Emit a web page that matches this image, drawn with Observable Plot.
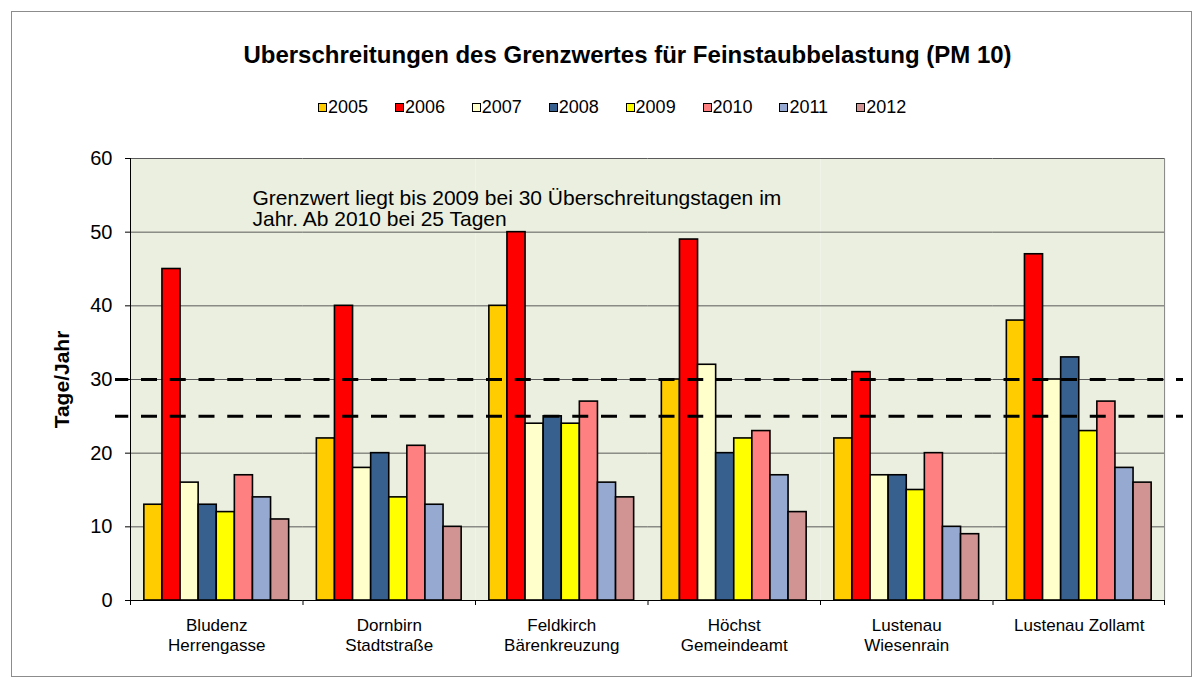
<!DOCTYPE html>
<html>
<head>
<meta charset="utf-8">
<script src="https://cdn.jsdelivr.net/npm/d3@7"></script>
<script src="https://cdn.jsdelivr.net/npm/@observablehq/plot@0.6"></script>
<style>
  body { margin: 0; background: #fff; font-family: "Liberation Sans", Arial, sans-serif; }
  #wrap { position: relative; width: 1203px; height: 685px; overflow: hidden; }
  #border { position: absolute; left: 11px; top: 11px; width: 1181px; height: 666px; border: 1px solid #8c8c8c; box-sizing: border-box; }
  #chart { position: absolute; left: 0; top: 0; }
  #title { position: absolute; left: 0; top: 41px; width: 1255px; text-align: center; font-weight: bold; font-size: 24px; line-height: 28px; color: #000; }
  #legend { position: absolute; left: 0; top: 97px; height: 20px; width: 1203px; }
  .item { position: absolute; top: 0; height: 20px; line-height: 20px; font-size: 18px; white-space: nowrap; }
  .sw { display: inline-block; width: 7px; height: 7px; border: 1.5px solid #000; vertical-align: middle; margin-right: 1px; position: relative; top: -1px; }
</style>
</head>
<body>
<div id="wrap">
  <div id="border"></div>
  <div id="chart"></div>
  <div id="title"></div>
  <div id="legend"></div>
</div>
<script>
const titleText = "Uberschreitungen des Grenzwertes für Feinstaubbelastung (PM 10)";
const categories = ["Bludenz\nHerrengasse", "Dornbirn\nStadtstraße", "Feldkirch\nBärenkreuzung", "Höchst\nGemeindeamt", "Lustenau\nWiesenrain", "Lustenau Zollamt"];
const years = ["2005", "2006", "2007", "2008", "2009", "2010", "2011", "2012"];
const v2005 = [13, 22, 40, 30, 22, 38];
const v2006 = [45, 40, 50, 49, 31, 47];
const v2007 = [16, 18, 24, 32, 17, 30];
const v2008 = [13, 20, 25, 20, 17, 33];
const v2009 = [12, 14, 24, 22, 15, 23];
const v2010 = [17, 21, 27, 23, 20, 27];
const v2011 = [14, 13, 16, 17, 10, 18];
const v2012 = [11, 10, 14, 12, 9, 16];
const colors = ["#FFCC00", "#FF0000", "#FFFFCC", "#37608F", "#FFFF00", "#FF8080", "#95A9D1", "#D29393"];
const yTicks = [0, 10, 20, 30, 40, 50, 60];
const limits = [30, 25];
const yLabel = "Tage/Jahr";
const note = ["Grenzwert liegt bis 2009 bei 30 Überschreitungstagen im", "Jahr. Ab 2010 bei 25 Tagen"];

const series = [v2005, v2006, v2007, v2008, v2009, v2010, v2011, v2012];
const table = [];
categories.forEach((c, ci) => years.forEach((y, yi) => table.push({cat: c, year: y, value: series[yi][ci]})));

const width = 1203, height = 685, mL = 130, mR = 38, mT = 158, mB = 85;
const W = (width - mL - mR) / categories.length;
const first = categories[0], last = categories[categories.length - 1];
const middleRows = categories.slice(1, -1).flatMap(c => limits.map(v => ({cat: c, v})));
const dash = "16,12.75";

document.getElementById("title").textContent = titleText;
const legend = document.getElementById("legend");
years.forEach((y, i) => {
  const it = document.createElement("div");
  it.className = "item";
  it.style.left = (318 + i * 76.9) + "px";
  const sw = document.createElement("span");
  sw.className = "sw";
  sw.style.background = colors[i];
  it.appendChild(sw);
  it.appendChild(document.createTextNode(y));
  legend.appendChild(it);
});

const chart = Plot.plot({
  width, height,
  marginLeft: mL, marginRight: mR, marginTop: mT, marginBottom: mB,
  style: {fontFamily: "'Liberation Sans', Arial, sans-serif", fontSize: "20px", color: "#000", background: "transparent"},
  fx: {domain: categories, padding: 0, round: false, axis: null},
  x: {domain: years, paddingInner: 0, paddingOuter: 0.765, round: false, axis: null},
  y: {domain: [0, 60], ticks: yTicks, tickSize: 5, tickPadding: 13, label: null},
  color: {domain: years, range: colors},
  marks: [
    Plot.frame({fill: "#EBEFDF", stroke: null}),
    Plot.ruleY(yTicks.filter(v => v > 0), {stroke: "#5a5a5a", strokeWidth: 1}),
    Plot.barY(table, {fx: "cat", x: "year", y: "value", fill: "year", stroke: "#000", strokeWidth: 1.6}),
    Plot.ruleY([0], {stroke: "#000", strokeWidth: 1}),
    Plot.rect([first], {fx: d => d, insetRight: W - 1, fill: "#000"}),
    Plot.rect([last], {fx: d => d, insetLeft: W - 1, fill: "#8c8c8c"}),
    Plot.rect(categories, {fx: d => d, y1: yTicks[0], y2: yTicks[0], insetRight: W - 1, insetBottom: -5, fill: "#000"}),
    Plot.rect([last], {fx: d => d, y1: yTicks[0], y2: yTicks[0], insetLeft: W - 1, insetBottom: -5, fill: "#000"}),
    Plot.ruleY(limits, {fx: () => first, stroke: "#000", strokeWidth: 3, strokeDasharray: dash, strokeDashoffset: 2.75, insetLeft: -15}),
    Plot.ruleY(middleRows, {fx: "cat", y: "v", stroke: "#000", strokeWidth: 3, strokeDasharray: dash, strokeDashoffset: 17.75}),
    Plot.ruleY(limits, {fx: () => last, stroke: "#000", strokeWidth: 3, strokeDasharray: dash, strokeDashoffset: 17.75, insetRight: -18}),
    Plot.text(categories, {fx: d => d, text: d => d, frameAnchor: "bottom", lineAnchor: "top", dy: 16, fontSize: 17, lineHeight: 1.18}),
    Plot.text([yLabel], {fx: () => first, text: d => d, frameAnchor: "left", textAnchor: "middle", lineAnchor: "middle", rotate: -90, dx: -68, fontWeight: "bold", fontSize: 21}),
    Plot.text([note.join("\n")], {fx: () => first, text: d => d, frameAnchor: "top-left", textAnchor: "start", lineAnchor: "top", dx: 122, dy: 31.5, fontSize: 21, lineHeight: 1.0})
  ]
});
document.getElementById("chart").appendChild(chart);
</script>
</body>
</html>
